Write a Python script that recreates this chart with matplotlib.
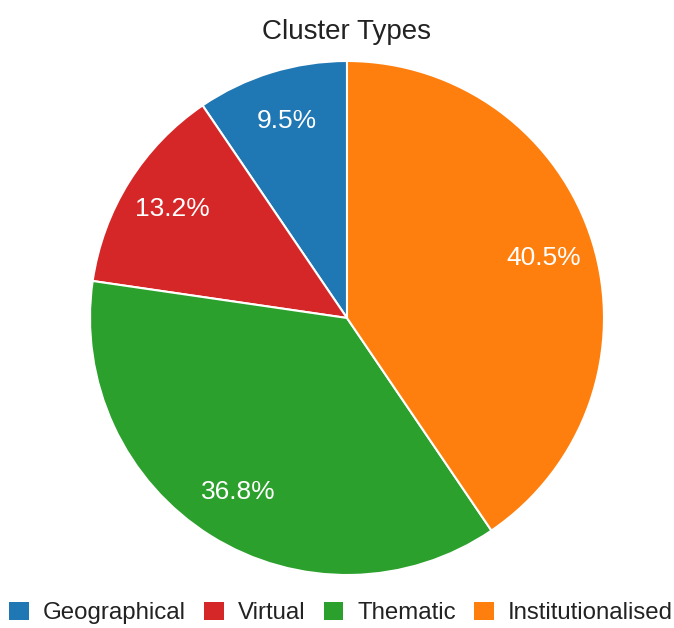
import matplotlib
matplotlib.use("Agg")
import matplotlib.pyplot as plt
from matplotlib.patches import Patch

categories = ["Geographical", "Virtual", "Thematic", "Institutionalised"]
values = [9.5, 13.2, 36.8, 40.5]
colors = ["#1f77b4", "#d62728", "#2ca02c", "#ff7f0e"]

plt.rcParams['font.family'] = ['Liberation Sans', 'DejaVu Sans']

W, H = 674, 628
fig = plt.figure(figsize=(W / 100, H / 100), dpi=100)
cx, cy, r = 347, 318, 257
ax = fig.add_axes([(cx - r) / W, 1 - (cy + r) / H, 2 * r / W, 2 * r / H])
wedges, texts, autotexts = ax.pie(
    values, colors=colors, startangle=90, counterclock=True,
    autopct='%1.1f%%', pctdistance=0.8, radius=1,
    wedgeprops=dict(edgecolor='white', linewidth=1.5),
    textprops=dict(color='white', fontsize=19))
ax.set_xlim(-1, 1)
ax.set_ylim(-1, 1)
ax.set_aspect('equal')
ax.axis('off')

fig.text(cx / W, 1 - 32 / H, "Cluster Types", ha='center', va='center',
         fontsize=20, color='#222222')

handles = [Patch(facecolor=c, edgecolor='none') for c in colors]
fig.legend(handles, categories, loc='center', bbox_to_anchor=(341 / W, 1 - 613 / H),
           ncol=4, frameon=False, fontsize=17.3, handlelength=0.83, handleheight=0.83,
           handletextpad=0.58, columnspacing=0.75, labelcolor='#222222',
           borderpad=0, borderaxespad=0)

fig.savefig("out.png", dpi=100)
